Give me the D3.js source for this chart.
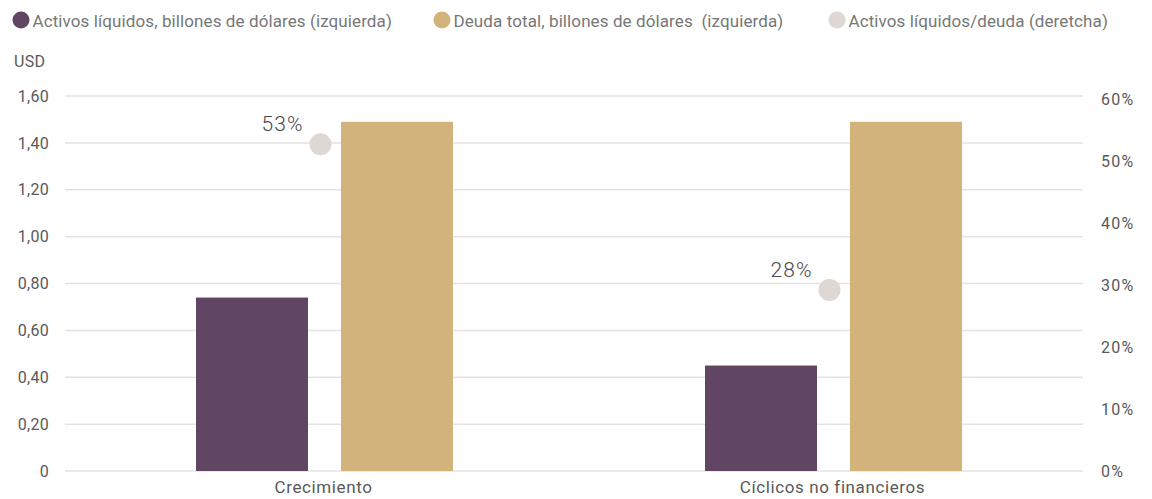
<!DOCTYPE html>
<html><head><meta charset="utf-8">
<script src="https://cdn.jsdelivr.net/npm/d3@7"></script>
<style>
html,body{margin:0;padding:0;background:#fff;}
svg{display:block;font-family:Roboto, "Noto Sans", sans-serif;}
</style></head>
<body><svg id="c" width="1152" height="499"></svg>
<script>
const categories = ["Crecimiento", "Cíclicos no financieros"];
const seriesNames = ["Activos líquidos, billones de dólares (izquierda)", "Deuda total, billones de dólares  (izquierda)", "Activos líquidos/deuda (deretcha)"];
const activos = [0.74, 0.45];
const deuda = [1.49, 1.49];
const ratio = [52.7, 29.2];
const ratioLabels = ["53%", "28%"];
const leftTicks = [0, 0.2, 0.4, 0.6, 0.8, 1.0, 1.2, 1.4, 1.6];
const rightTicks = [0, 10, 20, 30, 40, 50, 60];

const colors = ["#614663", "#D2B37B", "#DDD8D4"];
const textColor = "#595959";

const svg = d3.select("#c");
const x = d3.scaleBand().domain(categories).range([66, 1084]);
const x1 = d3.scaleBand().domain([0, 1]).range([130, 387]).paddingInner(0.2276);
const y = d3.scaleLinear().domain([0, 1.6]).range([471, 96]);
const yR = d3.scaleLinear().domain([0, 60]).range([471, 99]);
const fmt = d => d === 0 ? "0" : d3.format(".2f")(d).replace(".", ",");

// grid
svg.append("g").selectAll("line").data(leftTicks).join("line")
  .attr("x1", 65).attr("x2", 1083)
  .attr("y1", d => y(d)).attr("y2", d => y(d))
  .attr("stroke", "#E3E3E3").attr("stroke-width", 1.5);

// left axis
const la = svg.append("g").attr("transform", "translate(49,0)")
  .call(d3.axisLeft(y).tickValues(leftTicks).tickFormat(fmt).tickSize(0).tickPadding(0));
la.select(".domain").remove();
la.selectAll("text").attr("fill", textColor).style("font-size", "16px").style("font-family", "Roboto").style("letter-spacing", "0.3px");

// right axis
const ra = svg.append("g").attr("transform", "translate(1101,0)")
  .call(d3.axisRight(yR).tickValues(rightTicks).tickFormat(d => d + "%").tickSize(0).tickPadding(0));
ra.select(".domain").remove();
ra.selectAll("text").attr("fill", textColor).style("font-size", "16px").style("font-family", "Roboto").style("letter-spacing", "1.2px");

// bottom axis labels
const ba = svg.append("g").attr("transform", "translate(3,481)")
  .call(d3.axisBottom(x).tickSize(0).tickPadding(0));
ba.select(".domain").remove();
ba.selectAll("text").attr("fill", textColor).style("font-size", "17px").style("font-family", "Roboto")
  .style("letter-spacing", "0.6px").attr("dy", "0.71em");

// USD
svg.append("text").attr("x", 14).attr("y", 67).attr("fill", textColor)
  .style("font-size", "16px").style("letter-spacing", "0.3px").text("USD");

// bars
const series = [activos, deuda];
series.forEach((vals, si) => {
  svg.append("g").selectAll("rect").data(vals).join("rect")
    .attr("x", (d, i) => x(categories[i]) + x1(si))
    .attr("width", x1.bandwidth())
    .attr("y", d => y(d))
    .attr("height", d => y(0) - y(d))
    .attr("fill", colors[si]);
});

// points
svg.append("g").selectAll("circle").data(ratio).join("circle")
  .attr("cx", (d, i) => x(categories[i]) + x.bandwidth() / 2)
  .attr("cy", d => yR(d))
  .attr("r", 11)
  .attr("fill", colors[2]);
svg.append("g").selectAll("text").data(ratio).join("text")
  .attr("x", (d, i) => x(categories[i]) + x.bandwidth() / 2 - 38)
  .attr("y", d => yR(d) - 13)
  .attr("text-anchor", "middle")
  .attr("fill", "#4a4a4a")
  .style("font-size", "21px")
  .style("font-weight", "300")
  .style("letter-spacing", "1px")
  .text((d, i) => ratioLabels[i]);

// legend
const legX = [21, 442, 837];
const lg = svg.append("g");
seriesNames.forEach((n, i) => {
  lg.append("circle").attr("cx", legX[i]).attr("cy", 20).attr("r", 8.5).attr("fill", colors[i]);
  lg.append("text").attr("x", legX[i] + 11.5).attr("y", 26.5).attr("fill", "#777")
    .style("font-size", "17px").style("letter-spacing", "0.1px").style("white-space", "pre").text(n);
});
</script></body></html>
